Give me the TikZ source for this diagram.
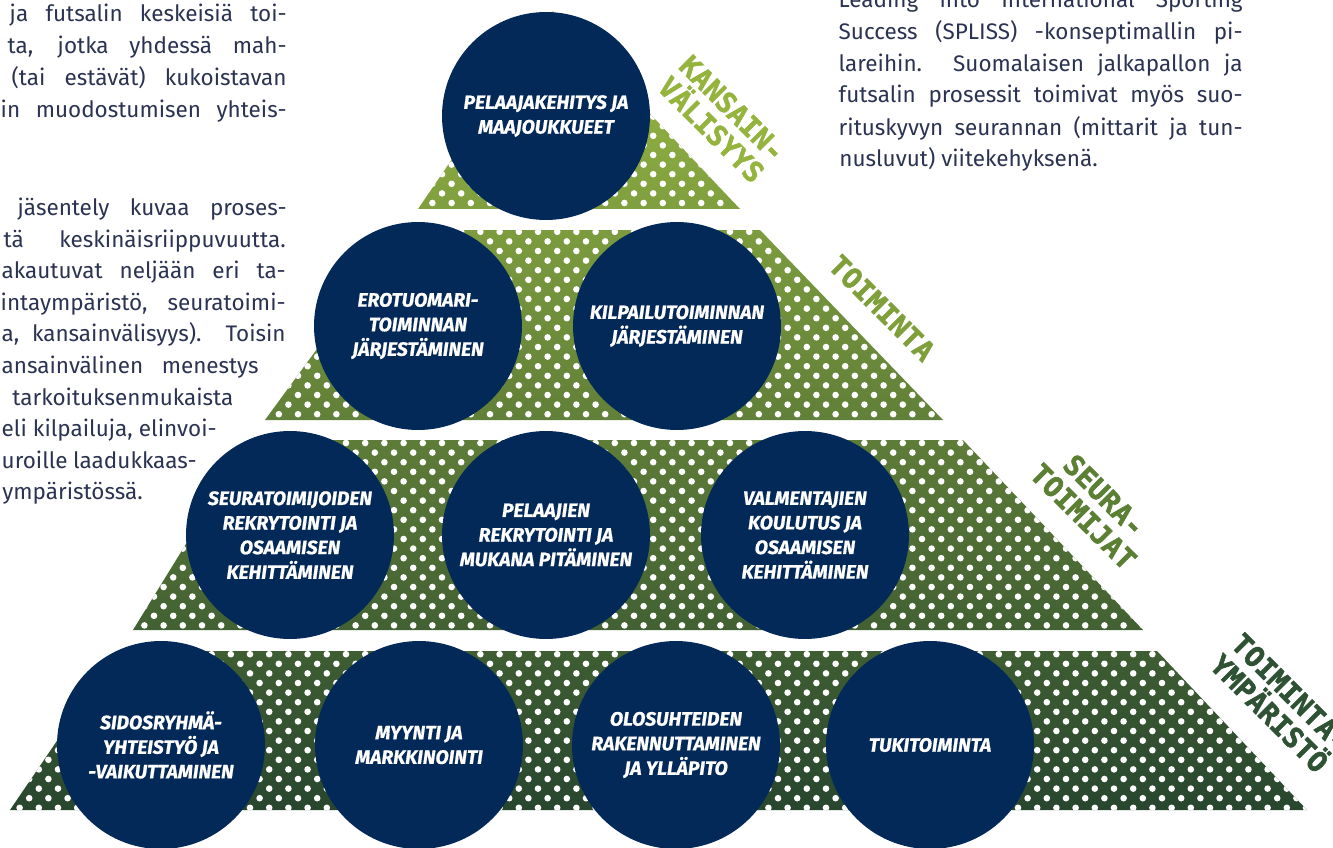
\documentclass[tikz,border=0pt]{standalone}
\usepackage{fontspec}
\setmainfont{Fira Sans}[BoldItalicFeatures={FakeBold=0.8}]
\newfontfamily\levelfont{DejaVu Sans Mono}[BoldFeatures={FakeBold=2}]
\definecolor{navy}{RGB}{3,41,88}
\definecolor{bodytext}{RGB}{43,51,82}
\definecolor{pyrtop}{RGB}{156,188,68}
\definecolor{pyrbot}{RGB}{40,70,46}
\definecolor{lvlone}{RGB}{148,180,62}
\definecolor{lvltwo}{RGB}{126,159,57}
\definecolor{lvlthree}{RGB}{91,127,51}
\definecolor{lvlfour}{RGB}{46,82,51}

\begin{document}
\begin{tikzpicture}[x=0.02cm,y=-0.02cm,
  proc/.style={circle,fill=navy,text=white,minimum size=4.16cm,inner sep=0pt,
    align=center,font=\fontsize{11}{14}\selectfont\bfseries\itshape},
  level/.style={rotate=-45,align=center,inner sep=0pt,
    font=\levelfont\fontsize{16}{17}\selectfont\bfseries},
  para/.style={text=bodytext,inner sep=0pt,font=\fontsize{12.8}{18}\selectfont}]
\useasboundingbox[fill=white] (0,0) rectangle (1333,848);
% the four levels of the pyramid, shaded and dotted
\begin{scope}
\clip (553,11) -- (740,209) -- (418,209) -- cycle
      (404,230) -- (760,230) -- (943,420) -- (265,420) -- cycle
      (250,440) -- (963,440) -- (1143,630) -- (133,630) -- cycle
      (118,651) -- (1157,651) -- (1307,810) -- (10,810) -- cycle;
\shade[top color=pyrtop,bottom color=pyrbot] (0,11) rectangle (1333,810);
\foreach \r in {0,...,83} {
  \pgfmathsetmacro\yy{11+9.6*\r}
  \pgfmathtruncatemacro\cmin{0.68*(810-\yy)/19.2-1}
  \pgfmathtruncatemacro\cmax{(1297-0.943*(810-\yy))/19.2+1}
  \foreach \c in {\cmin,...,\cmax}
    \fill[white] ({10+19.2*\c+9.6*mod(\r,2)},\yy) circle (3.3);
}
\end{scope}
% processes
\node[proc] (devel) at (546,116) {PELAAJAKEHITYS JA\\MAAJOUKKUEET};
\node[proc] (referee) at (418,326) {EROTUOMARI-\\TOIMINNAN\\JÄRJESTÄMINEN};
\node[proc] (compet) at (677,326) {KILPAILUTOIMINNAN\\JÄRJESTÄMINEN};
\node[proc] (clubstaff) at (290,535) {SEURATOIMIJOIDEN\\REKRYTOINTI JA\\OSAAMISEN\\KEHITTÄMINEN};
\node[proc] (players) at (546,535) {PELAAJIEN\\REKRYTOINTI JA\\MUKANA PITÄMINEN};
\node[proc] (coaches) at (805,535) {VALMENTAJIEN\\KOULUTUS JA\\OSAAMISEN\\KEHITTÄMINEN};
\node[proc] (stakeh) at (161,745) {SIDOSRYHMÄ-\\YHTEISTYÖ JA\\-VAIKUTTAMINEN};
\node[proc] (sales) at (419,745) {MYYNTI JA\\MARKKINOINTI};
\node[proc] (facil) at (676,745) {OLOSUHTEIDEN\\RAKENNUTTAMINEN\\JA YLLÄPITO};
\node[proc] (support) at (930,745) {TUKITOIMINTA};
% level names
\node[level,text=lvlone] (intl) at (722,119) {KANSAIN-\\VÄLISYYS};
\node[level,text=lvltwo] (oper) at (882,308) {TOIMINTA};
\node[level,text=lvlthree] (club) at (1094,506) {SEURA-\\TOIMIJAT};
\node[level,text=lvlfour] (env) at (1280,703) {TOIMINTA-\\YMPÄRISTÖ};
% text left
\node[para,anchor=base east] (a1) at (287,22) {\makebox[5.54cm][s]{ja futsalin keskeisiä toi-}};
\node[para,anchor=base east] (a2) at (287,54) {\makebox[5.58cm][s]{ta, jotka yhdessä mah-}};
\node[para,anchor=base east] (a3) at (287,86) {\makebox[5.5cm][s]{(tai estävät) kukoistavan}};
\node[para,anchor=base east] (a4) at (287,118) {\makebox[5.72cm][s]{in muodostumisen yhteis-}};
\node[para,anchor=base east] (b1) at (287,215) {\makebox[5.38cm][s]{jäsentely kuvaa proses-}};
\node[para,anchor=base east] (b2) at (286,247) {\makebox[5.64cm][s]{tä keskinäisriippuvuutta.}};
\node[para,anchor=base east] (b3) at (286,278) {\makebox[5.68cm][s]{akautuvat neljään eri ta-}};
\node[para,anchor=base east] (b4) at (286,310) {\makebox[5.7cm][s]{intaympäristö, seuratoimi-}};
\node[para,anchor=base east] (b5) at (286,341) {\makebox[5.68cm][s]{a, kansainvälisyys). Toisin}};
\node[para,anchor=base east] (b6) at (259,373) {\makebox[5.14cm][s]{ansainvälinen menestys}};
\node[para,anchor=base west] (b7) at (12,405) {tarkoituksenmukaista};
\node[para,anchor=base east] (b8) at (217,436) {\makebox[4.3cm][s]{eli kilpailuja, elinvoi-}};
\node[para,anchor=base east] (b9) at (197,468) {\makebox[3.9cm][s]{uroille laadukkaas-}};
\node[para,anchor=base west] (b10) at (2,499) {ympäristössä.};
% text right
\node[para,anchor=base east] (r0) at (1243,8) {\makebox[8.08cm][s]{Leading into International Sporting}};
\node[para,anchor=base east] (r1) at (1243,40) {\makebox[8.08cm][s]{Success (SPLISS) -konseptimallin pi-}};
\node[para,anchor=base east] (r2) at (1243,72) {\makebox[8.08cm][s]{lareihin. Suomalaisen jalkapallon ja}};
\node[para,anchor=base east] (r3) at (1243,103) {\makebox[8.08cm][s]{futsalin prosessit toimivat myös suo-}};
\node[para,anchor=base east] (r4) at (1243,135) {\makebox[8.08cm][s]{rituskyvyn seurannan (mittarit ja tun-}};
\node[para,anchor=base west] (r5) at (839,167) {nusluvut) viitekehyksenä.};
\end{tikzpicture}
\end{document}
